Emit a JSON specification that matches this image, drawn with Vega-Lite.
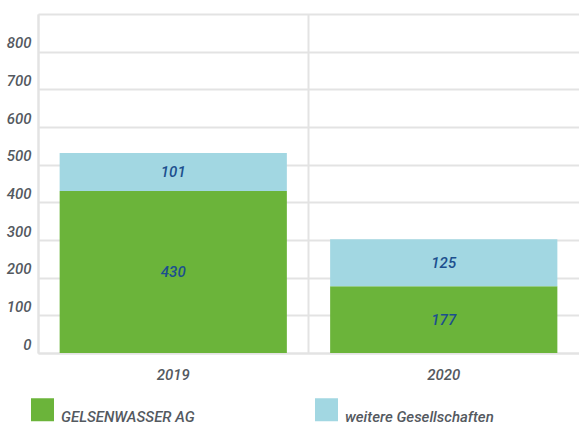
{
  "$schema": "https://vega.github.io/schema/vega-lite/v6.json",
  "width": 541,
  "height": 339,
  "autosize": {"type": "none"},
  "padding": {"left": 38, "top": 14, "right": 0, "bottom": 73},
  "background": "white",
  "data": {
    "values": [
      {"year": "2019", "company": "GELSENWASSER AG", "value": 430},
      {"year": "2019", "company": "weitere Gesellschaften", "value": 101},
      {"year": "2020", "company": "GELSENWASSER AG", "value": 177},
      {"year": "2020", "company": "weitere Gesellschaften", "value": 125}
    ]
  },
  "encoding": {
    "x": {
      "field": "year",
      "type": "nominal",
      "title": null,
      "scale": {"paddingInner": 0, "paddingOuter": 0},
      "axis": {
        "labelAngle": 0,
        "ticks": false,
        "grid": true,
        "bandPosition": 0,
        "gridColor": "#e3e3e3",
        "gridWidth": 2,
        "domainColor": "#e3e3e3",
        "domainWidth": 2,
        "labelFont": "Roboto",
        "labelFontSize": 15,
        "labelFontWeight": 500,
        "labelFontStyle": "italic",
        "labelColor": "#54595f",
        "labelPadding": 14,
        "labelBaseline": "top"
      }
    },
    "y": {
      "type": "quantitative",
      "title": null,
      "scale": {"domain": [0, 900], "nice": false},
      "axis": {
        "values": [0, 100, 200, 300, 400, 500, 600, 700, 800, 900],
        "labelExpr": "datum.value == 900 ? '' : datum.label",
        "labelOverlap": false,
        "ticks": false,
        "grid": true,
        "gridColor": "#e3e3e3",
        "gridWidth": 2,
        "domainColor": "#e3e3e3",
        "domainWidth": 2,
        "labelFont": "Roboto",
        "labelFontSize": 15,
        "labelFontWeight": 500,
        "labelFontStyle": "italic",
        "labelColor": "#54595f",
        "labelPadding": 7,
        "labelOffset": -9
      }
    }
  },
  "layer": [
    {
      "mark": {"type": "bar", "width": {"band": 0.84}},
      "encoding": {
        "y": {"field": "value", "stack": "zero"},
        "color": {
          "field": "company",
          "type": "nominal",
          "title": null,
          "scale": {
            "domain": ["GELSENWASSER AG", "weitere Gesellschaften"],
            "range": ["#6bb43a", "#a2d7e2"]
          },
          "legend": {
            "orient": "none",
            "legendX": -7,
            "legendY": 384,
            "direction": "horizontal",
            "columns": 2,
            "columnPadding": 120,
            "padding": 0,
            "symbolType": "square",
            "symbolSize": 529,
            "symbolStrokeWidth": 0,
            "symbolOpacity": 1,
            "labelFont": "Roboto",
            "labelFontSize": 15,
            "labelFontWeight": 500,
            "labelFontStyle": "italic",
            "labelColor": "#54595f",
            "labelOffset": 7,
            "labelBaseline": "top"
          }
        },
        "order": {"field": "company", "sort": "ascending"}
      }
    },
    {
      "transform": [
        {"stack": "value", "groupby": ["year"], "sort": [{"field": "company", "order": "ascending"}], "as": ["v0", "v1"]},
        {"calculate": "(datum.v0 + datum.v1) / 2", "as": "mid"}
      ],
      "mark": {"type": "text", "font": "Roboto", "fontSize": 15, "fontWeight": 500, "fontStyle": "italic", "color": "#1c4f8e"},
      "encoding": {
        "y": {"field": "mid"},
        "text": {"field": "value", "type": "quantitative"}
      }
    }
  ],
  "config": {"view": {"stroke": null}}
}
